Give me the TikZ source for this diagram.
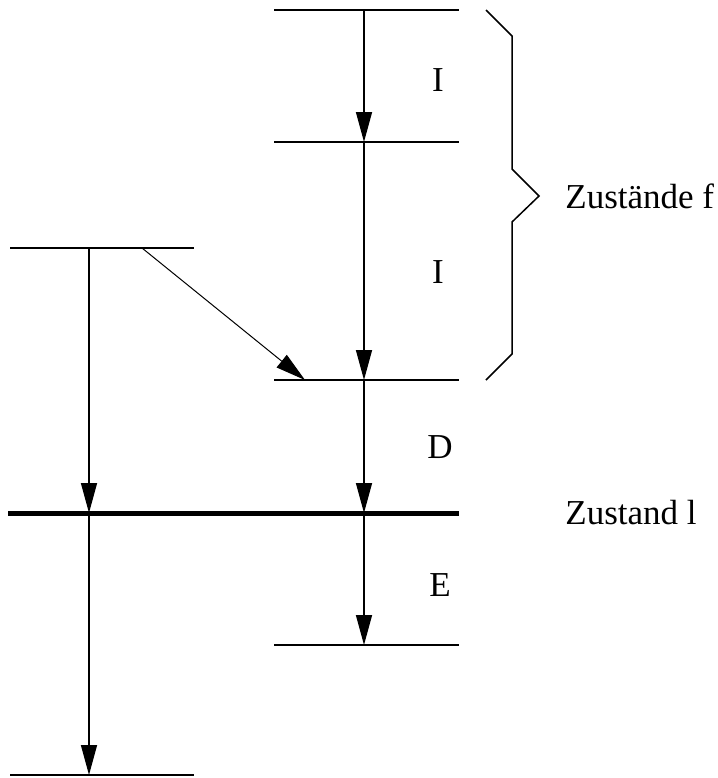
\documentclass[tikz,border=0pt]{standalone}
\usepackage{fontspec}
\setmainfont{Liberation Serif}
\usetikzlibrary{arrows.meta}
\tikzset{
  level/.style={line width=0.75pt},
  trans/.style={line width=0.75pt, -{Triangle[length=15pt, width=8pt]}},
  lbl/.style={font=\fontsize{17.5}{20}\selectfont, inner sep=0pt}
}
\begin{document}
\begin{tikzpicture}[x=0.5pt, y=-0.5pt]
    \useasboundingbox (0, 0) rectangle (718, 778);
    % levels, right column
    \coordinate (f1) at (364, 10);
    \coordinate (f2) at (364, 142);
    \coordinate (f3) at (364, 380);
    \coordinate (l) at (364, 513);
    \coordinate (e) at (364, 645);
    \draw[level] (274, 10) -- (459, 10);
    \draw[level] (274, 142) -- (459, 142);
    \draw[level] (274, 380) -- (459, 380);
    \draw[level] (274, 645) -- (459, 645);
    % levels, left column
    \coordinate (a) at (89, 248);
    \coordinate (al) at (89, 513);
    \coordinate (b) at (89, 775);
    \coordinate (s) at (142, 248);
    \coordinate (t) at (305, 380);
    \draw[level] (10, 248) -- (194, 248);
    \draw[level] (10, 775) -- (194, 775);
    % state l
    \draw[line width=2.5pt] (8, 513) -- (459, 513);
    % transitions
    \draw[trans] (f1) -- (f2);
    \draw[trans] (f2) -- (f3);
    \draw[trans] (f3) -- (l);
    \draw[trans] (l) -- (e);
    \draw[trans] (a) -- (al);
    \draw[trans] (al) -- (b);
    \draw[line width=0.5pt, -{Triangle[length=15pt, width=8pt]}] (s) -- (t);
    % brace
    \draw[level] (486, 10) -- (512, 36) -- (512, 169) -- (539, 196)
        -- (512, 222) -- (512, 354) -- (486, 380);
    % labels
    \node[lbl] (i1) at (438, 80) {I};
    \node[lbl] (i2) at (438, 272) {I};
    \node[lbl] (d) at (440, 447) {D};
    \node[lbl] (ee) at (440, 585) {E};
    \node[lbl, anchor=west] (zf) at (565, 196) {Zustände f};
    \node[lbl, anchor=west] (zl) at (565, 513) {Zustand l};
\end{tikzpicture}
\end{document}
